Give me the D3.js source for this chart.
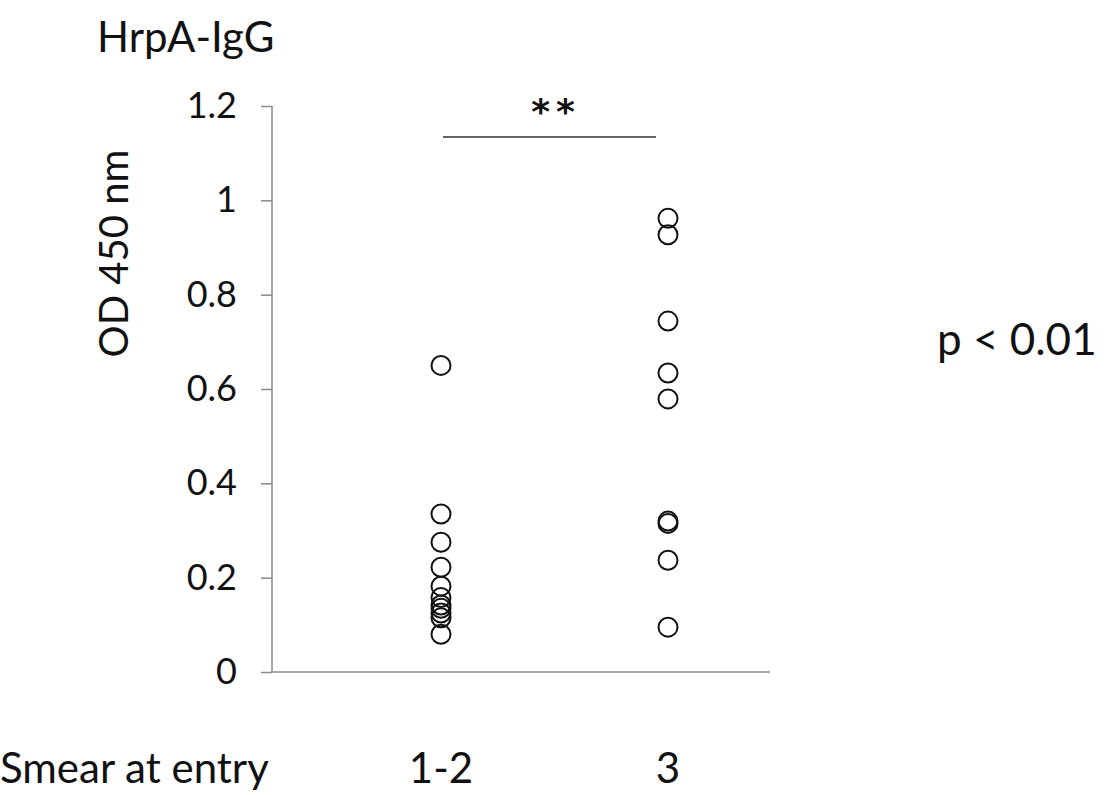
<!DOCTYPE html>
<html>
<head>
<meta charset="utf-8">
<script src="https://cdn.jsdelivr.net/npm/d3@7"></script>
<style>
	body { margin: 0; background: #fff; }
	text { font-family: Lato, "Noto Sans", sans-serif; fill: #111; }
</style>
</head>
<body>
<div id="chart-area"></div>
<script>
// data
let groups = ["1-2", "3"];
let smear12 = [0.65, 0.335, 0.275, 0.222, 0.182, 0.158, 0.142, 0.135, 0.125, 0.115, 0.08];
let smear3 = [0.962, 0.927, 0.744, 0.634, 0.579, 0.32, 0.315, 0.237, 0.095];
let yTicks = [0, 0.2, 0.4, 0.6, 0.8, 1, 1.2];

let width = 1116, height = 795;

let svg = d3.select("#chart-area").append("svg")
	.attr("width", width)
	.attr("height", height);

// scales
let yScale = d3.scaleLinear()
	.domain([0, 1.2])
	.range([672, 106]);

let xScale = d3.scalePoint()
	.domain(groups)
	.range([441, 668]);

// y axis
let yAxis = d3.axisLeft()
	.scale(yScale)
	.tickValues(yTicks)
	.tickSize(11)
	.tickPadding(24)
	.tickFormat(d3.format("~g"));

let yGroup = svg.append("g")
	.attr("class", "y_axis axis")
	.attr("transform", "translate(272,0)")
	.call(yAxis);

yGroup.select(".domain").attr("stroke", "#8a8a8a").attr("stroke-width", 1.5)
	.attr("d", `M0,${yScale(1.2)}V${yScale(0)}`);
yGroup.selectAll(".tick line").attr("stroke", "#8a8a8a").attr("stroke-width", 1.5);
yGroup.selectAll(".tick text")
	.attr("font-size", 36)
	.style("fill", "#111")
	.style("font-family", "Lato, sans-serif");

// x axis line (no ticks)
svg.append("line")
	.attr("x1", 272).attr("x2", 770)
	.attr("y1", yScale(0)).attr("y2", yScale(0))
	.attr("stroke", "#8a8a8a")
	.attr("stroke-width", 1.5);

// points
let allPoints = [];
smear12.forEach(v => allPoints.push({g: groups[0], v: v}));
smear3.forEach(v => allPoints.push({g: groups[1], v: v}));

svg.selectAll("circle")
	.data(allPoints)
	.enter()
	.append("circle")
	.attr("cx", d => xScale(d.g))
	.attr("cy", d => yScale(d.v))
	.attr("r", 9.5)
	.attr("fill", "none")
	.attr("stroke", "#111")
	.attr("stroke-width", 2);

// significance bar
svg.append("line")
	.attr("x1", xScale(groups[0]) + 2).attr("x2", xScale(groups[1]) - 12)
	.attr("y1", 137).attr("y2", 137)
	.attr("stroke", "#333")
	.attr("stroke-width", 1.5);

svg.append("text")
	.attr("x", 556).attr("y", 124)
	.attr("text-anchor", "middle")
	.attr("font-size", 36)
	.attr("font-weight", "bold")
	.style("font-family", "'DejaVu Sans', sans-serif")
	.attr("letter-spacing", 6)
	.text("**");

// titles
svg.append("text")
	.attr("x", 97).attr("y", 52)
	.attr("font-size", 42)
	.text("HrpA-IgG");

svg.append("text")
	.attr("transform", `translate(128,${(yScale(1.2) + yScale(0.6)) / 2 + 6}) rotate(-90)`)
	.attr("text-anchor", "middle")
	.attr("font-size", 40)
	.text("OD 450 nm");

svg.append("text")
	.attr("x", 937).attr("y", 355)
	.attr("font-size", 44)
	.text("p < 0.01");

// category labels under the plot
svg.append("text")
	.attr("x", 0).attr("y", 783)
	.attr("font-size", 42)
	.text("Smear at entry");

svg.selectAll(".cat_label")
	.data(groups)
	.enter()
	.append("text")
	.attr("class", "cat_label")
	.attr("x", d => xScale(d))
	.attr("y", 783)
	.attr("text-anchor", "middle")
	.attr("font-size", 42)
	.text(d => d);
</script>
</body>
</html>
